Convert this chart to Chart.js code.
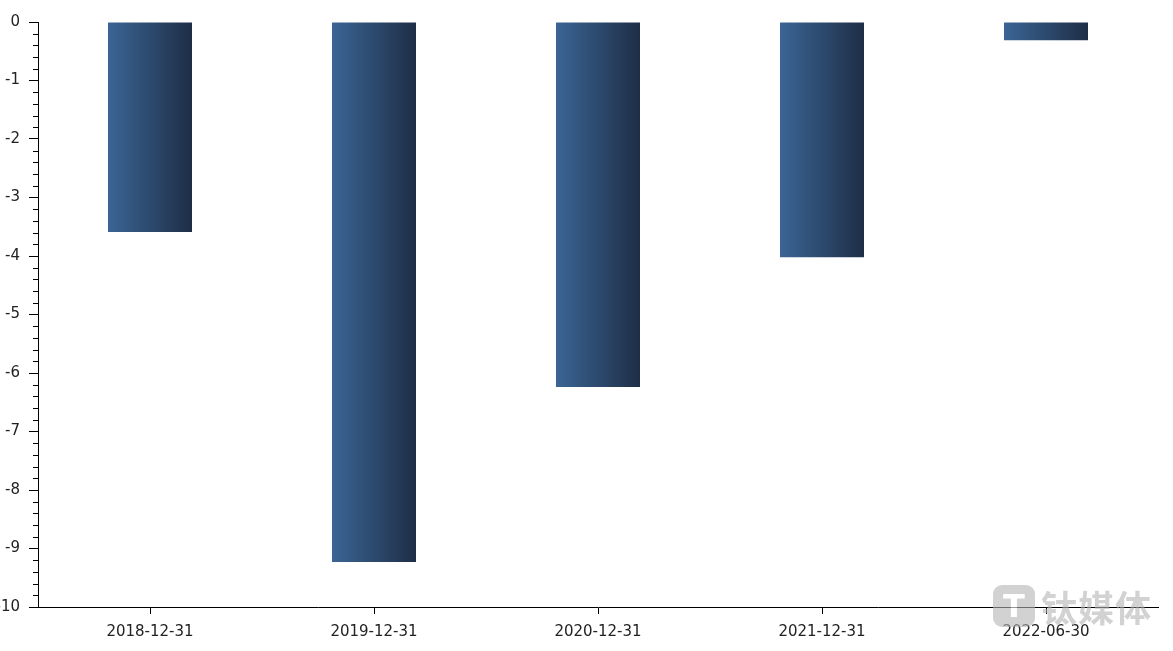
<!DOCTYPE html>
<html>
<head>
<meta charset="utf-8">
<script src="https://cdn.jsdelivr.net/npm/chart.js@4"></script>
<style>
  html, body { margin: 0; padding: 0; background: #fff; }
  #wrap { position: relative; width: 1173px; height: 651px; }
  #mark { position: absolute; left: 993px; top: 584px; height: 44px; display: flex; align-items: center; opacity: 0.6; pointer-events: none; }
  #mark .ico { width: 42px; height: 42px; border-radius: 9px; background: #b5b5b5; color: #fff; font: bold 32px "DejaVu Sans", sans-serif; display: flex; align-items: center; justify-content: center; margin-right: 6px; }
  #mark .txt { font: bold 36px "Noto Sans CJK SC", sans-serif; color: #b5b5b5; letter-spacing: 1px; line-height: 42px; }
</style>
</head>
<body>
<div id="wrap">
  <canvas id="myChart" width="1173" height="651"></canvas>
  <div id="mark"><div class="ico">T</div><div class="txt">钛媒体</div></div>
</div>
<script>
// values
const dates = ['2018-12-31', '2019-12-31', '2020-12-31', '2021-12-31', '2022-06-30'];
const values = [-3.59, -9.23, -6.24, -4.02, -0.31];
const yMin = -10;
const yMax = 0;

const barPct = 0.375;

// minor ticks between the integer ticks, drawn through the y scale
const minorTicks = {
    id: 'minorTicks',
    afterDraw(chart) {
        const y = chart.scales.y;
        const ctx = chart.ctx;
        ctx.save();
        ctx.strokeStyle = '#000';
        ctx.lineWidth = 1;
        for (let i = yMax; i > yMin; i--) {
            for (let k = 1; k < 5; k++) {
                const py = Math.round(y.getPixelForValue(i - k * 0.2)) + 0.5;
                ctx.beginPath();
                ctx.moveTo(y.right - 5, py);
                ctx.lineTo(y.right, py);
                ctx.stroke();
            }
        }
        ctx.restore();
    }
};

const barGradient = (context) => {
    const chart = context.chart;
    const { chartArea, scales } = chart;
    if (!chartArea || !scales.x) return '#2c4a70';
    const cx = scales.x.getPixelForValue(context.dataIndex);
    const half = (chartArea.width / dates.length) * barPct / 2;
    const g = chart.ctx.createLinearGradient(cx - half, 0, cx + half, 0);
    g.addColorStop(0, '#3b6594');
    g.addColorStop(1, '#1e2e47');
    return g;
};

const chart = new Chart(document.getElementById('myChart'), {
    type: 'bar',
    data: {
        labels: dates,
        datasets: [{
            data: values,
            backgroundColor: barGradient,
            borderWidth: 0,
            categoryPercentage: 1,
            barPercentage: barPct
        }]
    },
    options: {
        responsive: false,
        animation: false,
        layout: { padding: { top: 22, right: 15, left: 0, bottom: 0 } },
        plugins: { legend: { display: false }, tooltip: { enabled: false } },
        scales: {
            x: {
                offset: true,
                afterFit: (s) => { s.height = 44; },
                grid: { display: true, drawOnChartArea: false, offset: false, tickLength: 7, color: '#000' },
                border: { display: true, color: '#000' },
                ticks: { color: '#222', font: { family: 'DejaVu Sans', size: 15 }, padding: 9, maxRotation: 0 }
            },
            y: {
                min: yMin,
                max: yMax,
                afterFit: (s) => { s.width = 38; },
                grid: { display: true, drawOnChartArea: false, tickLength: 9, color: '#000' },
                border: { display: true, color: '#000' },
                ticks: { stepSize: 1, color: '#222', font: { family: 'DejaVu Sans', size: 15 }, padding: 9 }
            }
        }
    },
    plugins: [minorTicks]
});
</script>
</body>
</html>
